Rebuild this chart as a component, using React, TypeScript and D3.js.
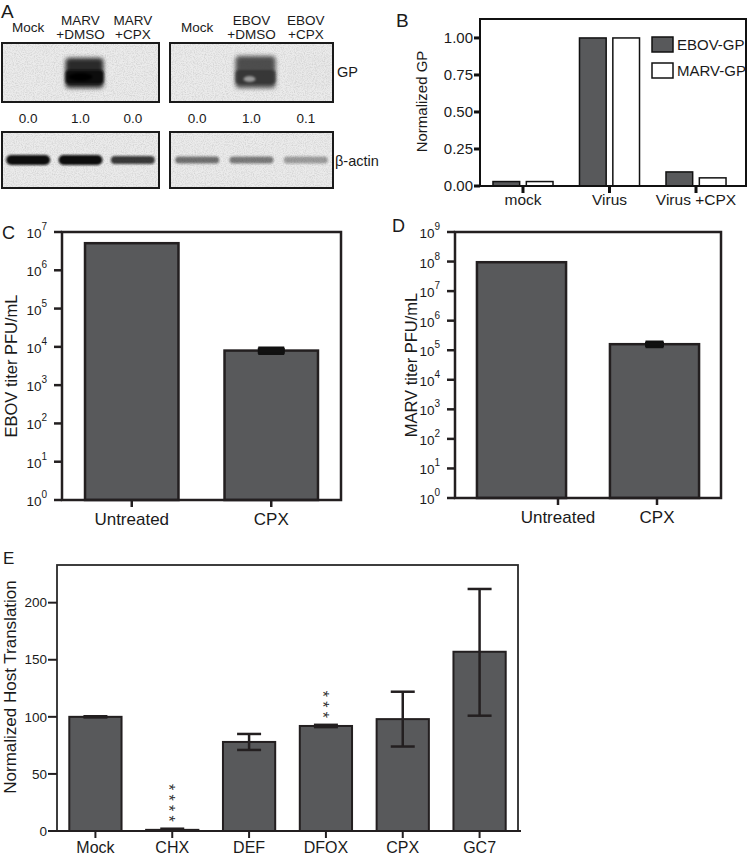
import React from 'react';
import * as d3 from 'd3';

// ---------- Panel A data ----------
const marvLanes = [['Mock'], ['MARV', '+DMSO'], ['MARV', '+CPX']];
const ebovLanes = [['Mock'], ['EBOV', '+DMSO'], ['EBOV', '+CPX']];
const marvGPQuant = [0.0, 1.0, 0.0];
const ebovGPQuant = [0.0, 1.0, 0.1];
const marvActin = [1.0, 1.0, 0.8];
const ebovActin = [0.55, 0.5, 0.35];

// ---------- Panel B data ----------
const gpCategories = ['mock', 'Virus', 'Virus +CPX'];
const gpSeries = ['EBOV-GP', 'MARV-GP'];
const ebovGPNorm = [0.03, 1.0, 0.095];
const marvGPNorm = [0.03, 1.0, 0.055];
const gpTicks = [0, 0.25, 0.5, 0.75, 1.0];

// ---------- Panel C / D data ----------
const titerCategories = ['Untreated', 'CPX'];
const ebovTiter = [5.1e6, 8.0e3];
const ebovTiterErr = [0, 1.2e3];
const marvTiter = [9.5e7, 1.6e5];
const marvTiterErr = [0, 2.6e4];
const ebovExponents = [0, 1, 2, 3, 4, 5, 6, 7];
const marvExponents = [0, 1, 2, 3, 4, 5, 6, 7, 8, 9];

// ---------- Panel E data ----------
const hostCategories = ['Mock', 'CHX', 'DEF', 'DFOX', 'CPX', 'GC7'];
const hostValues = [100, 1, 78, 92, 98, 157];
const hostLower = [99.5, 0.2, 71, 91, 74, 101];
const hostUpper = [100.5, 2, 85, 93, 122, 212];
const hostStars = [0, 4, 0, 3, 0, 0];
const hostTicks = [0, 50, 100, 150, 200];

const FONT = 'Liberation Sans, Arial, Helvetica, sans-serif';
const BAR = '#58595b';
const INK = '#231f20';

function Blot({ x0, x1, lanes, gp, actin, gpStyle }: any) {
  const lane = d3.scaleBand<number>().domain(d3.range(lanes.length)).range([x0, x1]);
  const gpTop = 43, gpBot = 102, acTop = 132, acBot = 188;
  return (
    <g>
      {/* GP blot */}
      <rect x={x0} y={gpTop} width={x1 - x0} height={gpBot - gpTop} fill="#ebebeb" />
      <rect x={x0} y={gpTop} width={x1 - x0} height={gpBot - gpTop} fill="#888" filter="url(#noise)" />
      <g clipPath={`url(#clip-gp-${x0})`}>
        {gp.map((v: number, i: number) => {
          const cx = (lane(i) as number) + lane.bandwidth() / 2 + 4;
          const op = v * v;
          if (op < 0.001) return null;
          return gpStyle === 'dark' ? (
            <g key={i} opacity={op}>
              <rect x={cx - 19} y={58} width={38} height={30} rx={4} fill="#2a2a2a" filter="url(#blur2)" />
              <rect x={cx - 19} y={70} width={38} height={14} rx={4} fill="#111" filter="url(#blur1)" />
              <ellipse cx={cx - 4} cy={77} rx={12} ry={4} fill="#000" filter="url(#blur1)" />
            </g>
          ) : (
            <g key={i} opacity={op}>
              <rect x={cx - 20} y={56} width={40} height={32} rx={4} fill="#3e3e3e" filter="url(#blur2)" opacity={0.9} />
              <rect x={cx - 20} y={70} width={40} height={14} rx={4} fill="#333" filter="url(#blur1)" opacity={0.8} />
              <ellipse cx={cx - 6} cy={79} rx={6} ry={3} fill="#999" filter="url(#blur1)" />
            </g>
          );
        })}
      </g>
      <rect x={x0} y={gpTop} width={x1 - x0} height={gpBot - gpTop} fill="none" stroke="#1a1a1a" strokeWidth={2} />
      {/* actin blot */}
      <rect x={x0} y={acTop} width={x1 - x0} height={acBot - acTop} fill="#ebebeb" />
      <rect x={x0} y={acTop} width={x1 - x0} height={acBot - acTop} fill="#888" filter="url(#noise)" />
      {actin.map((v: number, i: number) => {
        const cx = (lane(i) as number) + lane.bandwidth() / 2;
        const h = gpStyle === 'dark' ? 10 - (1 - v) * 10 : 7;
        return (
          <rect key={i} x={cx - 22} y={160 - h / 2} width={44} height={h} rx={h / 2}
            fill="#111" opacity={v} filter="url(#blur1)" />
        );
      })}
      <rect x={x0} y={acTop} width={x1 - x0} height={acBot - acTop} fill="none" stroke="#1a1a1a" strokeWidth={2} />
      {/* lane labels & quantification */}
      {lanes.map((lbl: string[], i: number) => {
        const cx = (lane(i) as number) + lane.bandwidth() / 2;
        return (
          <g key={i}>
            {lbl.length === 1 ? (
              <text x={cx} y={32} textAnchor="middle" fontSize={13.5}>{lbl[0]}</text>
            ) : (
              <text x={cx} y={25} textAnchor="middle" fontSize={13.5}>
                <tspan x={cx}>{lbl[0]}</tspan>
                <tspan x={cx} dy={14}>{lbl[1]}</tspan>
              </text>
            )}
            <text x={cx} y={123} textAnchor="middle" fontSize={13.5}>{gp[i].toFixed(1)}</text>
          </g>
        );
      })}
      <defs>
        <clipPath id={`clip-gp-${x0}`}>
          <rect x={x0} y={gpTop} width={x1 - x0} height={gpBot - gpTop} />
        </clipPath>
      </defs>
    </g>
  );
}

function PanelB() {
  const y = d3.scaleLinear().domain([0, 1.128]).range([186, 19]);
  const x = d3.scaleBand<string>().domain(gpCategories).range([480, 739]).paddingInner(0.306).paddingOuter(0.15);
  const xi = d3.scaleBand<string>().domain(gpSeries).range([0, x.bandwidth()]).paddingInner(0.2);
  const series = [ebovGPNorm, marvGPNorm];
  const fills = [BAR, '#fff'];
  return (
    <g>
      <text x={396} y={27} fontSize={19}>B</text>
      {gpCategories.map((c, ci) =>
        gpSeries.map((s, si) => (
          <rect key={c + s} x={(x(c) as number) + (xi(s) as number)} y={y(series[si][ci])}
            width={xi.bandwidth()} height={y(0) - y(series[si][ci])} fill={fills[si]} stroke="#111" strokeWidth={1.5} />
        ))
      )}
      <rect x={480} y={19} width={266} height={167} fill="none" stroke="#111" strokeWidth={2} />
      {gpTicks.map(t => (
        <g key={t}>
          <line x1={474} x2={480} y1={y(t)} y2={y(t)} stroke="#111" strokeWidth={3} />
          <text x={473} y={y(t)} dy="0.35em" textAnchor="end" fontSize={15}>{t.toFixed(2)}</text>
        </g>
      ))}
      {gpCategories.map(c => {
        const cx = (x(c) as number) + x.bandwidth() / 2;
        return (
          <g key={c}>
            <line x1={cx} x2={cx} y1={186} y2={193} stroke="#111" strokeWidth={3} />
            <text x={cx} y={205} textAnchor="middle" fontSize={15.5}>{c}</text>
          </g>
        );
      })}
      <text transform="translate(427,101.5) rotate(-90)" textAnchor="middle" fontSize={15}>Normalized GP</text>
      {gpSeries.map((s, i) => (
        <g key={s}>
          <rect x={652} y={37 + i * 26} width={21} height={15} fill={fills[i]} stroke="#111" strokeWidth={1.5} />
          <text x={677} y={50 + i * 26} fontSize={15}>{s}</text>
        </g>
      ))}
    </g>
  );
}

function TiterPanel({ letter, lx, ly, frame, values, errs, exps, label, labelX, tickRange }: any) {
  const [fx0, fy0, fx1, fy1] = frame;
  const y = d3.scaleLog().domain([1, Math.pow(10, exps[exps.length - 1])]).range([fy1, fy0]);
  const x = d3.scaleBand<string>().domain(titerCategories).range([fx0, fx1]).paddingInner(0.33).paddingOuter(0.165);
  const xt = tickRange
    ? d3.scalePoint<string>().domain(titerCategories).range(tickRange)
    : (c: string) => (x(c) as number) + x.bandwidth() / 2;
  const capW = letter === 'C' ? 26 : 18;
  return (
    <g>
      <text x={lx} y={ly} fontSize={18}>{letter}</text>
      {titerCategories.map((c, i) => {
        const bx = x(c) as number;
        const cx = bx + x.bandwidth() / 2;
        return (
          <g key={c}>
            <rect x={bx} y={y(values[i])} width={x.bandwidth()} height={fy1 - y(values[i])}
              fill={BAR} stroke={INK} strokeWidth={2.5} />
            {errs[i] > 0 && (
              <g stroke="#111" strokeWidth={3.5}>
                <line x1={cx} x2={cx} y1={y(values[i] + errs[i])} y2={y(values[i] - errs[i])} />
                <line x1={cx - capW / 2} x2={cx + capW / 2} y1={y(values[i] + errs[i])} y2={y(values[i] + errs[i])} />
                <line x1={cx - capW / 2} x2={cx + capW / 2} y1={y(values[i] - errs[i])} y2={y(values[i] - errs[i])} />
                <rect x={cx - capW / 2} y={y(values[i] + errs[i])} width={capW}
                  height={y(values[i] - errs[i]) - y(values[i] + errs[i])} fill="#111" strokeWidth={1} />
              </g>
            )}
          </g>
        );
      })}
      <rect x={fx0} y={fy0} width={fx1 - fx0} height={fy1 - fy0} fill="none" stroke={INK} strokeWidth={2.5} />
      {exps.map((e: number) => {
        const ty = y(Math.pow(10, e));
        return (
          <g key={e}>
            <line x1={fx0 - 8} x2={fx0} y1={ty} y2={ty} stroke={INK} strokeWidth={2.5} />
            <text x={fx0 - 15} y={ty + 6} textAnchor="end" fontSize={13.5}>
              <tspan>10</tspan>
              <tspan dy={-8} fontSize={10}>{e}</tspan>
            </text>
          </g>
        );
      })}
      {titerCategories.map(c => {
        const tx = xt(c) as number;
        return (
          <g key={c}>
            <line x1={tx} x2={tx} y1={fy1} y2={fy1 + 7} stroke={INK} strokeWidth={2.5} />
            <text x={tx} y={fy1 + 25} textAnchor="middle" fontSize={17}>{c}</text>
          </g>
        );
      })}
      <text transform={`translate(${labelX},${(fy0 + fy1) / 2 + 0}) rotate(-90)`} textAnchor="middle" fontSize={16.5}>{label}</text>
    </g>
  );
}

function PanelE() {
  const y = d3.scaleLinear().domain([0, 233]).range([831, 565]);
  const x = d3.scaleBand<string>().domain(hostCategories).range([57, 518]).paddingInner(0.32).paddingOuter(0.16);
  const capW = 24;
  const starFs = 16;
  const starGap = 10.5;
  return (
    <g>
      <text x={3} y={564} fontSize={17}>E</text>
      {hostCategories.map((c, i) => {
        const bx = x(c) as number;
        const cx = bx + x.bandwidth() / 2;
        const yu = y(hostUpper[i]);
        const yl = y(hostLower[i]);
        const n = hostStars[i];
        const starTop = yu - 10 - (n - 1) * starGap - 3.1;
        return (
          <g key={c}>
            <rect x={bx} y={y(hostValues[i])} width={x.bandwidth()} height={y(0) - y(hostValues[i])}
              fill={BAR} stroke={INK} strokeWidth={2} />
            <g stroke={INK} strokeWidth={2.5}>
              <line x1={cx} x2={cx} y1={yu} y2={yl} />
              <line x1={cx - capW / 2} x2={cx + capW / 2} y1={yu} y2={yu} />
              <line x1={cx - capW / 2} x2={cx + capW / 2} y1={yl} y2={yl} />
            </g>
            {n > 0 && (
              <text transform={`translate(${cx - 0.58 * starFs},${starTop}) rotate(90)`}
                fontSize={starFs} letterSpacing={starGap - 0.389 * starFs} fill="#333">
                {'*'.repeat(n)}
              </text>
            )}
          </g>
        );
      })}
      <rect x={57} y={565} width={461} height={266} fill="none" stroke="#2a2a2a" strokeWidth={1.8} />
      <line x1={48} x2={521} y1={831} y2={831} stroke={INK} strokeWidth={2} />
      {hostTicks.map(t => (
        <g key={t}>
          <line x1={48} x2={57} y1={y(t)} y2={y(t)} stroke={INK} strokeWidth={2} />
          <text x={47} y={y(t)} dy="0.35em" textAnchor="end" fontSize={13.5}>{t}</text>
        </g>
      ))}
      {hostCategories.map(c => {
        const cx = (x(c) as number) + x.bandwidth() / 2;
        return (
          <g key={c}>
            <line x1={cx} x2={cx} y1={831} y2={838} stroke={INK} strokeWidth={2} />
            <text x={cx} y={853} textAnchor="middle" fontSize={16}>{c}</text>
          </g>
        );
      })}
      <text transform="translate(16,687) rotate(-90)" textAnchor="middle" fontSize={17}>Normalized Host Translation</text>
    </g>
  );
}

export default function App() {
  return (
    <svg width={750} height={859} viewBox="0 0 750 859"
      style={{ position: 'absolute', left: 0, top: 0, background: '#fff' }}
      fontFamily={FONT} fill="#1a1a1a">
      <defs>
        <filter id="noise" x="0" y="0" width="100%" height="100%">
          <feTurbulence type="fractalNoise" baseFrequency="0.9" numOctaves={2} seed={7} result="t" />
          <feColorMatrix in="t" type="matrix"
            values="0 0 0 0 0.45  0 0 0 0 0.45  0 0 0 0 0.45  0 0 0 -0.9 0.55" result="n" />
          <feComposite in="n" in2="SourceGraphic" operator="in" />
        </filter>
        <filter id="blur1" x="-30%" y="-100%" width="160%" height="300%">
          <feGaussianBlur stdDeviation="1.3" />
        </filter>
        <filter id="blur2" x="-30%" y="-50%" width="160%" height="200%">
          <feGaussianBlur stdDeviation="2.2" />
        </filter>
      </defs>
      {/* Panel A */}
      <text x={1} y={18} fontSize={19}>A</text>
      <Blot x0={2} x1={159} lanes={marvLanes} gp={marvGPQuant} actin={marvActin} gpStyle="dark" />
      <Blot x0={170} x1={333} lanes={ebovLanes} gp={ebovGPQuant} actin={ebovActin} gpStyle="light" />
      <text x={337} y={77} fontSize={14.5}>GP</text>
      <text x={335} y={166} fontSize={14.5}>β-actin</text>
      <PanelB />
      <TiterPanel letter="C" lx={2} ly={239} frame={[62, 232, 341, 500]} values={ebovTiter} errs={ebovTiterErr}
        exps={ebovExponents} label="EBOV titer PFU/mL" labelX={17} />
      <TiterPanel letter="D" lx={392} ly={232} frame={[455, 232, 721, 498]} values={marvTiter} errs={marvTiterErr}
        exps={marvExponents} label="MARV titer PFU/mL" labelX={417} tickRange={[558, 657]} />
      <PanelE />
    </svg>
  );
}
